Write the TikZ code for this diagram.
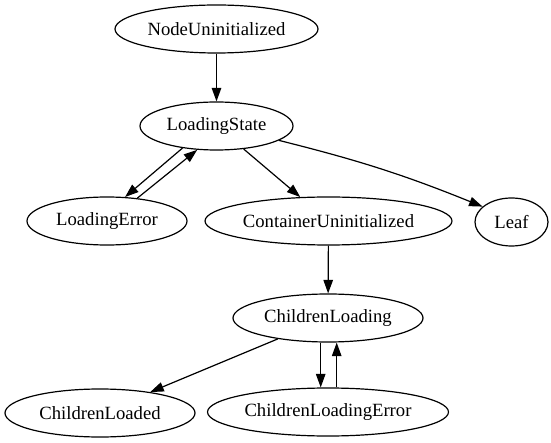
\documentclass[tikz,border=0pt]{standalone}
\usepackage{fontspec}
\setmainfont{Liberation Serif}
\usetikzlibrary{shapes.geometric,arrows.meta}
\begin{document}
\begin{tikzpicture}[x=1pt,y=-1pt,
  st/.style={draw,ellipse,line width=1.2pt,inner sep=0pt,minimum height=48pt,
    font=\fontsize{18.67}{22}\selectfont},
  edge/.style={line width=1.2pt,-{Triangle[length=13.5pt,width=9.5pt]}}]
\useasboundingbox (0,0) rectangle (551,443);
\node[st,minimum width=203pt] (nu) at (216.5,29) {NodeUninitialized};
\node[st,minimum width=153pt] (ls) at (216.5,126) {LoadingState};
\node[st,minimum width=160pt] (le) at (107,221) {LoadingError};
\node[st,minimum width=247pt] (cu) at (328.5,221) {ContainerUninitialized};
\node[st,minimum width=73pt] (lf) at (511.5,222) {Leaf};
\node[st,minimum width=190pt] (cl) at (328,318) {ChildrenLoading};
\node[st,minimum width=190pt] (cd) at (100,413) {ChildrenLoaded};
\node[st,minimum width=241pt] (ce) at (328,412) {ChildrenLoadingError};
\draw[edge] (nu) -- (ls);
\draw[edge] (ls.213) -- (le.53);
\draw[edge] (le.37) -- (ls.231);
\draw[edge] (ls) -- (cu);
\draw[edge] (ls.-13) to[out=-14,in=158] (lf.152);
\draw[edge] (cu) -- (cl);
\draw[edge] ([xshift=-7.3pt]cl.south) -- ([xshift=-7.3pt]ce.north);
\draw[edge] ([xshift=8.7pt]ce.north) -- ([xshift=8.7pt]cl.south);
\draw[edge] (cl) -- (cd);
\end{tikzpicture}
\end{document}
